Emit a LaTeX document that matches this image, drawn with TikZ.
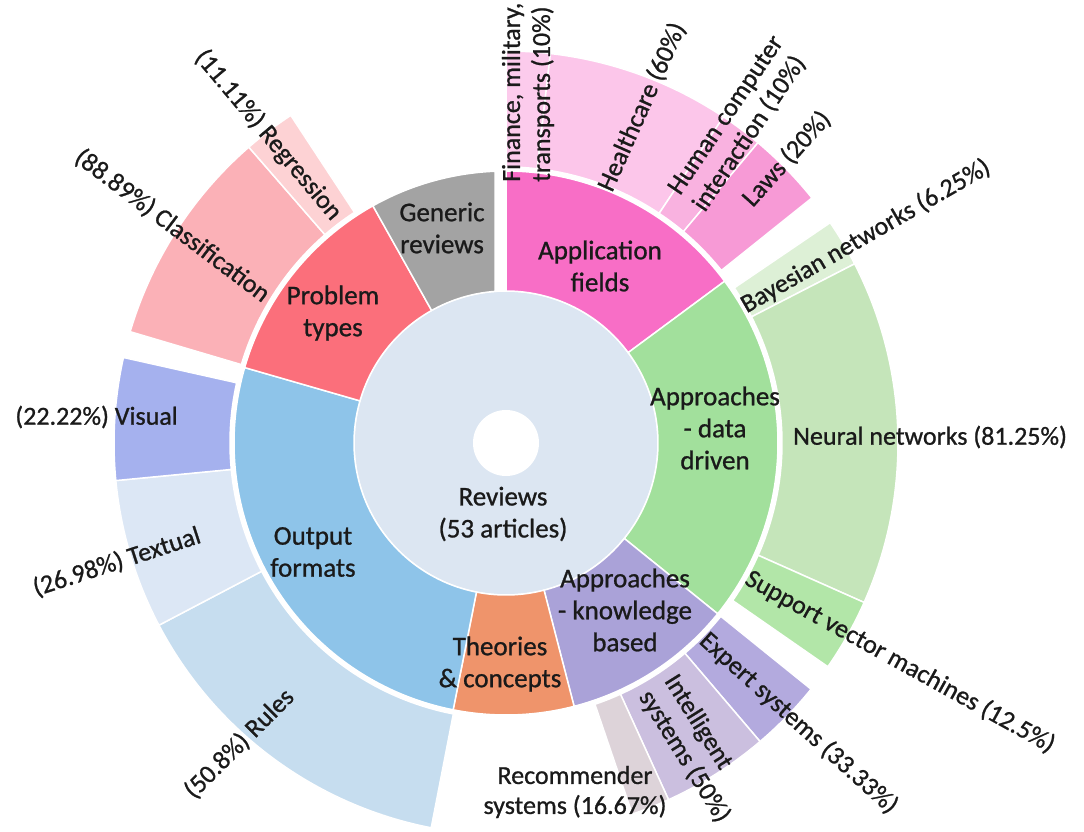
\documentclass[tikz,border=0pt]{standalone}
\usepackage{fontspec}
\setmainfont{Carlito}[FakeBold=0.9]
\definecolor{reviewsblue}{HTML}{DCE6F2}
\definecolor{appfields}{HTML}{F86EC6}
\definecolor{finance}{HTML}{FCCBEC}
\definecolor{health}{HTML}{FCC6EA}
\definecolor{hci}{HTML}{F9B2E0}
\definecolor{laws}{HTML}{F79AD6}
\definecolor{datadriven}{HTML}{A2E09C}
\definecolor{neural}{HTML}{C5E5BA}
\definecolor{bayes}{HTML}{DDF0D6}
\definecolor{svm}{HTML}{B2E6A8}
\definecolor{knowbased}{HTML}{AAA2D8}
\definecolor{expert}{HTML}{B3AADE}
\definecolor{intel}{HTML}{CBBFDF}
\definecolor{recomm}{HTML}{DDD3D9}
\definecolor{theories}{HTML}{EF946B}
\definecolor{output}{HTML}{8EC4E9}
\definecolor{visual}{HTML}{A5B1EE}
\definecolor{textual}{HTML}{DCE7F5}
\definecolor{rules}{HTML}{C6DDEF}
\definecolor{problem}{HTML}{FB6F7B}
\definecolor{classif}{HTML}{FBB1B7}
\definecolor{regress}{HTML}{FDD2D4}
\definecolor{generic}{HTML}{A3A3A3}
\definecolor{lbltext}{HTML}{1A1A1A}
\tikzset{
  seg/.style={fill=#1, draw=white, line width=1.5pt},
  midlbl/.style={font=\fontsize{27}{32}\selectfont, align=center, text=lbltext, inner sep=0pt},
  outlbl/.style={font=\fontsize{26}{30}\selectfont, align=left, text=lbltext, inner sep=0pt},
}
\begin{document}
\begin{tikzpicture}[x=1pt,y=1pt]
	\useasboundingbox (-506,-388) rectangle (578,443);
	{
		\def\rin{152}
		\def\rmid{272}
		\def\rgap{276}
		\def\rout{392}
		% centre
		\draw[seg=reviewsblue] (0,0) circle[radius=\rin pt];
		\fill[white] (0,0) circle[radius=33pt];
		% middle ring
		\foreach \a/\b/\c in {90/36.5/appfields, 36.5/-38.9/datadriven, -38.9/-75.5/knowbased,
			-75.5/-101.2/theories, -101.2/-196.1/output, -196.1/-240.7/problem}
		{
			\draw[seg=\c] (\a:\rin pt) arc[start angle=\a, end angle=\b, radius=\rin pt]
				-- (\b:\rmid pt) arc[start angle=\b, end angle=\a, radius=\rmid pt] -- cycle;
		}
		\draw[seg=generic] (119.3:\rin pt) arc[start angle=119.3, end angle=94.1, radius=\rin pt]
			-- (92.3:\rmid pt) arc[start angle=92.3, end angle=119.3, radius=\rmid pt] -- cycle;
		% outer ring
		\foreach \a/\b/\c in {90/83.5/finance, 83.5/56.3/health, 56.3/50/hci, 50/38.7/laws,
			34.2/27.2/bayes, 27.2/-24/neural, -24/-34.8/svm,
			-38.9/-49.6/expert, -49.6/-65.5/intel, -65.5/-71.2/recomm,
			-101/-152.3/rules, -152.3/-174.5/textual, -174.5/-192.6/visual,
			-196.5/-229/classif, -229/-236.7/regress}
		{
			\draw[seg=\c] (\a:\rgap pt) arc[start angle=\a, end angle=\b, radius=\rgap pt]
				-- (\b:\rout pt) arc[start angle=\b, end angle=\a, radius=\rout pt] -- cycle;
		}
	}
	% labels, middle
	\node[midlbl] (reviews) at (-3,-71) {Reviews\\(53 articles)};
	\node[midlbl] (genrev) at (-64,215) {Generic\\reviews};
	\node[midlbl] (appf) at (94,177) {Application\\fields};
	\node[midlbl] (datadr) at (209,15) {Approaches\\- data\\driven};
	\node[midlbl] (knowb) at (119,-167) {Approaches\\- knowledge\\based};
	\node[midlbl] (theo) at (-6,-221) {Theories\\\& concepts};
	\node[midlbl] (outf) at (-193,-109) {Output\\formats};
	\node[midlbl] (probt) at (-173,130) {Problem\\types};
	% labels, outer
	\node[outlbl, rotate=90, anchor=west] (fin) at (22,261) {Finance, military,\\transports (10\%)};
	\node[outlbl, rotate=66, anchor=west] (hlth) at (99,253) {Healthcare (60\%)};
	\node[outlbl, rotate=56, anchor=west] (hcil) at (181,242) {Human computer\\interaction (10\%)};
	\node[outlbl, rotate=48, anchor=west] (lawl) at (241,240) {Laws (20\%)};
	\node[outlbl, rotate=30, anchor=west] (bayl) at (237,136) {Bayesian networks (6.25\%)};
	\node[outlbl, anchor=west] (neul) at (287,6) {Neural networks (81.25\%)};
	\node[outlbl, rotate=-29, anchor=west] (svml) at (241,-134) {Support vector machines (12.5\%)};
	\node[outlbl, rotate=-42, anchor=west] (expl) at (197,-194) {Expert systems (33.33\%)};
	\node[outlbl, rotate=-58, anchor=west] (intl) at (151,-242) {Intelligent\\systems (50\%)};
	\node[outlbl, align=center] (recl) at (69,-349) {Recommender\\systems (16.67\%)};
	\node[outlbl, rotate=45, anchor=east] (rull) at (-216,-250) {(50.8\%) Rules};
	\node[outlbl, rotate=18, anchor=east] (texl) at (-306,-92) {(26.98\%) Textual};
	\node[outlbl, anchor=east] (visl) at (-328,26) {(22.22\%) Visual};
	\node[outlbl, rotate=-37, anchor=east] (clal) at (-239,146) {(88.89\%) Classification};
	\node[outlbl, rotate=-50, anchor=east] (regl) at (-169,226) {(11.11\%) Regression};
\end{tikzpicture}
\end{document}
